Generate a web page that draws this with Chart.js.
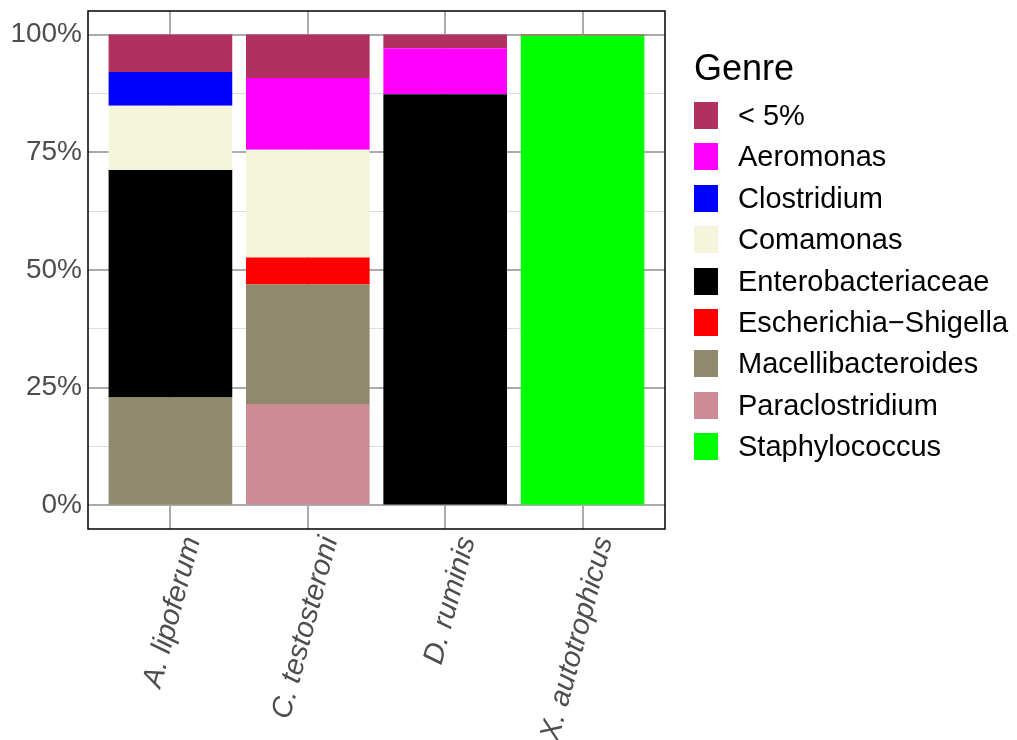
<!DOCTYPE html>
<html>
<head>
<meta charset="utf-8">
<script src="https://cdn.jsdelivr.net/npm/chart.js@4.4.1/dist/chart.umd.min.js"></script>
<style>
  html, body { margin: 0; padding: 0; background: #fff; }
  #wrap { position: relative; width: 1017px; height: 740px; }
  #legend { position: absolute; left: 694px; top: 0; font-family: "Liberation Sans", Arial, sans-serif; color: #000; }
  #legend .title { position: absolute; left: 0; top: 48px; height: 40px; line-height: 40px; font-size: 36px; white-space: nowrap; }
  #legend .item { position: absolute; left: 0; height: 27px; display: flex; align-items: center; white-space: nowrap; font-size: 29px; }
  #legend .key { width: 24px; height: 27px; margin-right: 20px; }
</style>
</head>
<body>
<div id="wrap">
  <canvas id="chart" width="1017" height="740"></canvas>
  <div id="legend"></div>
</div>
<script>
// categories (x axis)
const species = ["A. lipoferum", "C. testosteroni", "D. ruminis", "X. autotrophicus"];

// relative abundance (%) of each genus, one value per species
const below5 = [7.98, 9.25, 2.9, 0.2];
const aeromonas = [0, 15.24, 9.8, 0];
const clostridium = [7.13, 0, 0, 0];
const comamonas = [13.67, 22.86, 0, 0];
const enterobacteriaceae = [48.27, 0, 87.3, 0];
const escherichia = [0, 5.72, 0, 0];
const macellibacteroides = [22.95, 25.4, 0, 0];
const paraclostridium = [0, 21.53, 0, 0];
const staphylococcus = [0, 0, 0, 99.8];

// legend order (top of stack first)
const genres = ["< 5%", "Aeromonas", "Clostridium", "Comamonas", "Enterobacteriaceae",
  "Escherichia\u2212Shigella", "Macellibacteroides", "Paraclostridium", "Staphylococcus"];
const genreValues = [below5, aeromonas, clostridium, comamonas, enterobacteriaceae,
  escherichia, macellibacteroides, paraclostridium, staphylococcus];
const genreColors = ["#B03060", "#FF00FF", "#0000FF", "#F5F5DC", "#000000",
  "#FF0000", "#8F896D", "#CD8C95", "#00FF00"];

const yTicks = [0, 25, 50, 75, 100];
const yMinor = [12.5, 37.5, 62.5, 87.5];

const font = "'Liberation Sans', Arial, sans-serif";

// stack bottom-up: last legend entry sits at the bottom
const datasets = genres.map((g, i) => ({
  label: g,
  data: species.map((s, j) => ({ x: j + 1, y: genreValues[i][j] })),
  backgroundColor: genreColors[i],
  borderWidth: 0,
  barPercentage: 0.9,
  categoryPercentage: 1.0
})).reverse();

const panelBorder = {
  id: "panelBorder",
  afterDatasetsDraw(chart) {
    const { ctx, chartArea: a } = chart;
    ctx.save();
    ctx.strokeStyle = "#000";
    ctx.lineWidth = 1.5;
    ctx.strokeRect(a.left, a.top, a.right - a.left, a.bottom - a.top);
    ctx.restore();
  }
};

new Chart(document.getElementById("chart").getContext("2d"), {
  type: "bar",
  data: { datasets: datasets },
  options: {
    responsive: false,
    animation: false,
    layout: { padding: { top: 11, right: 352, left: 0, bottom: 0 } },
    plugins: { legend: { display: false }, tooltip: { enabled: false } },
    scales: {
      x: {
        type: "linear",
        min: 0.4,
        max: 4.6,
        offset: false,
        stacked: true,
        afterBuildTicks: s => { s.ticks = species.map((_, i) => ({ value: i + 1 })); },
        afterFit: s => { s.height = 740 - 529; s.paddingLeft = 0; s.paddingRight = 0; },
        border: { display: false },
        grid: { color: "#ababab", lineWidth: 2, drawTicks: false, offset: false },
        ticks: {
          callback: v => species[v - 1],
          autoSkip: false,
          minRotation: 75,
          maxRotation: 75,
          padding: 4,
          labelOffset: 22,
          color: "#4d4d4d",
          font: { family: font, size: 29, style: "italic" }
        }
      },
      y: {
        min: -5,
        max: 105,
        stacked: true,
        afterBuildTicks: s => {
          s.ticks = yTicks.concat(yMinor).sort((a, b) => a - b).map(v => ({ value: v }));
        },
        afterFit: s => { s.width = 88; s.paddingTop = 0; s.paddingBottom = 0; },
        border: { display: false },
        grid: {
          color: c => (c.tick && c.tick.value % 25 === 0) ? "#ababab" : "#dedede",
          lineWidth: c => (c.tick && c.tick.value % 25 === 0) ? 2 : 1,
          drawTicks: false
        },
        ticks: {
          callback: v => yTicks.includes(v) ? v + "%" : "",
          padding: 6,
          color: "#4d4d4d",
          font: { family: font, size: 28 }
        }
      }
    }
  },
  plugins: [panelBorder]
});

// legend
const legend = document.getElementById("legend");
const title = document.createElement("div");
title.className = "title";
title.textContent = "Genre";
legend.appendChild(title);
genres.forEach((g, i) => {
  const item = document.createElement("div");
  item.className = "item";
  item.style.top = (102 + i * 41.4) + "px";
  const key = document.createElement("span");
  key.className = "key";
  key.style.background = genreColors[i];
  const label = document.createElement("span");
  label.textContent = g;
  item.appendChild(key);
  item.appendChild(label);
  legend.appendChild(item);
});
</script>
</body>
</html>
